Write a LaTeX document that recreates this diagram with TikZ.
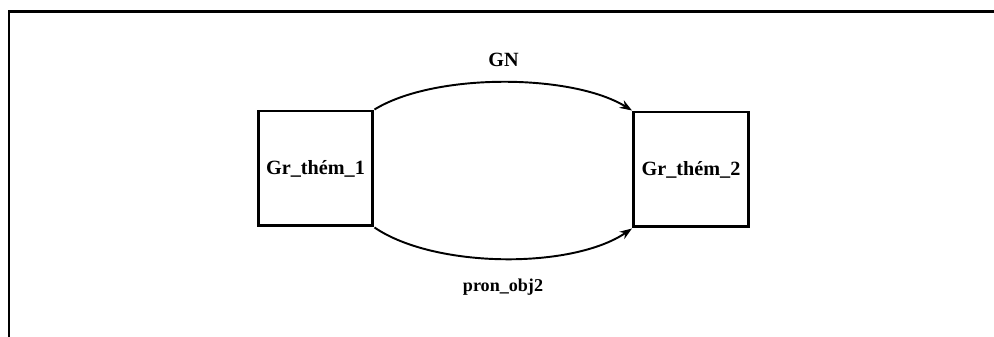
\documentclass[tikz,border=0pt]{standalone}
\usepackage{tikz}
\usepackage{fontspec}
\setmainfont{Liberation Serif}
\usetikzlibrary{arrows.meta}

\tikzset{
    thembox/.style={draw, line width=1.7pt, minimum width=2.3cm, minimum height=2.3cm, inner sep=0pt, font=\fontsize{11.5}{13}\selectfont\bfseries},
    arc/.style={line width=1.1pt, -{Stealth[length=7pt,width=5pt]}},
    lbl/.style={font=\fontsize{11.5}{13}\selectfont\bfseries}
}

\begin{document}
\begin{tikzpicture}[x=0.02cm, y=0.02cm]
        \useasboundingbox (0,0) rectangle (994,337);

        % open frame (top and left side only)
        \draw[line width=1.7pt] (994,325) -- (9,325) -- (9,0);

        % the two groups
        \node[thembox] (g1) at (315.5,168.5) {Gr\_thém\_1};
        \node[thembox] (g2) at (691,167.5) {Gr\_thém\_2};

        % upper arc
        \draw[arc] (g1.north east) .. controls +(60,37) and +(-60,37) .. (g2.north west);
        \node[lbl] (gn) at (503.5,277) {GN};

        % lower arc
        \draw[arc] (g1.south east) .. controls +(60,-41) and +(-60,-41) .. (g2.south west);
        \node[lbl, font=\fontsize{10.3}{12}\selectfont\bfseries] (pron) at (503,50) {pron\_obj2};

    \end{tikzpicture}
\end{document}
